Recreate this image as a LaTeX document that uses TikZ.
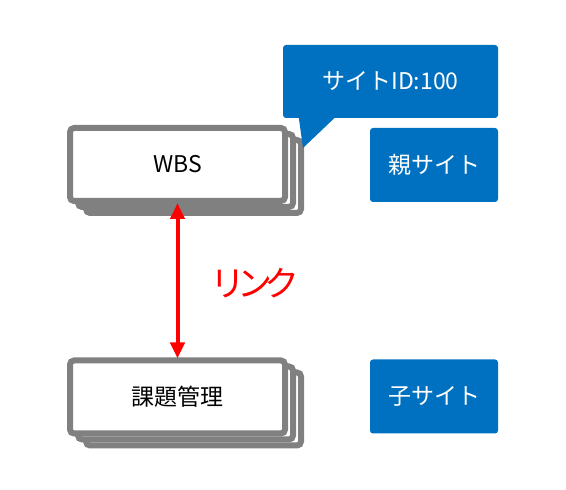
\documentclass[tikz,border=0pt]{standalone}
\usepackage{fontspec}
\setmainfont{Noto Sans CJK JP}
\usepackage{tikz}
\usetikzlibrary{arrows.meta, positioning, calc}
\definecolor{sitebl}{HTML}{0070C0}
\definecolor{stackgr}{HTML}{808080}
\tikzset{
  boxnode/.style = {align=center, inner sep=0pt, text centered, font=\fontsize{23}{26}\selectfont},
  box_w/.style = {boxnode, rectangle, rounded corners=4pt, draw=stackgr, line width=6pt, fill=white, minimum width=215pt, minimum height=73pt},
  box_b/.style = {boxnode, rectangle, rounded corners=3pt, white, fill=sitebl, minimum width=128pt, minimum height=74pt},
  box_c/.style = {boxnode, rectangle, rounded corners=3pt, white, fill=sitebl, minimum width=215pt, minimum height=73pt},
  link_a/.style = {red, line width=4pt, {Triangle[width=14pt,length=16pt]}-{Triangle[width=14pt,length=16pt]}}
}
\begin{document}
\begin{tikzpicture}[x=1pt,y=1pt]
  \useasboundingbox (0,0) rectangle (566,490);
  % stacked pages
  \foreach \i in {2,1} {
    \node [box_w, xshift=8*\i pt, yshift=-6*\i pt] (wbs\i) at (177.5,325.5) {};
    \node [box_w, xshift=8*\i pt, yshift=-6*\i pt] (task\i) at (177.5,93) {};
  }
  \node [box_w] (wbs) at (177.5,325.5) {WBS};
  \node [box_w] (task) at (177.5,93) {課題管理};
  % link
  \draw [link_a, shorten <=-1pt, shorten >=-1pt] (wbs.south) -- (task.north);
  \node [red, font=\fontsize{35}{38}\selectfont\addfontfeature{LetterSpace=-22}] (link) at (255,207) {リンク};
  % sites
  \node [box_c] (siteid) at (390.5,408.5) {サイトID:100};
  \coordinate (tip) at (303,342);
  \fill [sitebl] ($(siteid.south west)+(16,0.5)$) -- (tip) -- ($(siteid.south west)+(52,0.5)$) -- cycle;
  \node [box_b] (parent) at (434,325) {親サイト};
  \node [box_b] (child) at (434,93.5) {子サイト};
\end{tikzpicture}
\end{document}
